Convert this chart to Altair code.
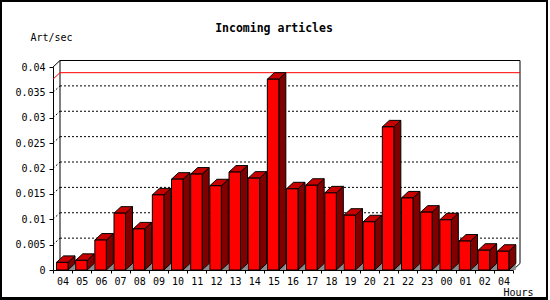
import json
import altair as alt
import pandas as pd

# ---- data ----
hours = ["04", "05", "06", "07", "08", "09", "10", "11", "12", "13", "14", "15",
         "16", "17", "18", "19", "20", "21", "22", "23", "00", "01", "02", "04"]
rates = [0.0015, 0.0019, 0.0059, 0.0112, 0.0081, 0.0148, 0.0179, 0.0189,
         0.0166, 0.0193, 0.0181, 0.0376, 0.0160, 0.0167, 0.0152, 0.0108,
         0.0095, 0.0282, 0.0142, 0.0114, 0.0099, 0.0057, 0.0039, 0.0037]
y_ticks = [0, 0.005, 0.01, 0.015, 0.02, 0.025, 0.03, 0.035, 0.04]
grid_values = [0.005, 0.01, 0.015, 0.02, 0.025, 0.03, 0.035]

# ---- geometry of the pseudo-3D plot ----
W, H = 460, 203
N = len(hours)
YMAX = 0.04
DX_PX, DY_PX = 7.0, 6.5
band_px = W / N
dxu = DX_PX * N / W          # depth offset in x units
dyu = DY_PX * YMAX / H       # depth offset in y units
off = 3.5 / band_px          # bar start inside its band
bw = 11.5 / band_px          # bar front width

FONT = "DejaVu Sans Mono"

front_rows, side_rows, top_rows, shade_rows = [], [], [], []
for i, v in enumerate(rates):
    xl = i + off
    xr = xl + bw
    front_rows.append({"bar": i, "x": xl, "x2": xr, "y": v, "y2": 0.0})
    side_rows += [{"bar": i, "x": xr, "y": 0.0, "y2": v},
                  {"bar": i, "x": xr + dxu, "y": dyu, "y2": v + dyu}]
    top_rows += [{"bar": i, "y": v, "x": xl, "x2": xr},
                 {"bar": i, "y": v + dyu, "x": xl + dxu, "x2": xr + dxu}]
    shade_rows += [{"bar": i, "x": xr, "y": 0.0, "y2": 0.0},
                   {"bar": i, "x": xr + dxu, "y": 0.0, "y2": dyu}]

front = pd.DataFrame(front_rows)
side = pd.DataFrame(side_rows)
top = pd.DataFrame(top_rows)
shade = pd.DataFrame(shade_rows)

grid = pd.DataFrame(
    [{"x": dxu, "x2": N + dxu, "y": g + dyu, "y2": g + dyu} for g in grid_values] +
    [{"x": 0.0, "x2": dxu, "y": g, "y2": g + dyu} for g in grid_values]
)
frame = pd.DataFrame([
    {"x": dxu, "x2": dxu, "y": dyu, "y2": YMAX + dyu},
    {"x": dxu, "x2": N + dxu, "y": YMAX + dyu, "y2": YMAX + dyu},
    {"x": N + dxu, "x2": N + dxu, "y": dyu, "y2": YMAX + dyu},
    {"x": 0.0, "x2": dxu, "y": YMAX, "y2": YMAX + dyu},
    {"x": float(N), "x2": N + dxu, "y": 0.0, "y2": dyu},
])
vmax = max(rates)
maxline = pd.DataFrame([
    {"x": 0.0, "x2": dxu, "y": vmax, "y2": vmax + dyu},
    {"x": dxu, "x2": N + dxu, "y": vmax + dyu, "y2": vmax + dyu},
])

xs = alt.Scale(domain=[0, N], nice=False, zero=False)
ys = alt.Scale(domain=[0, YMAX], nice=False, zero=False)

label_expr = json.dumps(hours) + "[datum.value] || ''"

x_axis = alt.Axis(
    values=list(range(N + 1)), labelExpr=label_expr, labelOffset=band_px / 2,
    labelFlush=False, labelOverlap=False, tickSize=3, tickColor="black",
    domainColor="black", grid=False, labelFont=FONT, labelFontSize=10,
    labelColor="black", labelPadding=3,
    title="Hours", titleX=480, titleY=25, titleAlign="right",
    titleBaseline="alphabetic", titleFont=FONT, titleFontSize=10,
    titleFontWeight="normal", titleColor="black",
)
y_axis = alt.Axis(
    values=y_ticks, format="~g", tickSize=4, tickColor="black",
    domainColor="black", grid=False, labelFont=FONT, labelFontSize=10,
    labelColor="black", labelPadding=4,
    title="Art/sec", titleAngle=0, titleAlign="left", titleBaseline="alphabetic",
    titleX=-23, titleY=-27, titleFont=FONT, titleFontSize=10,
    titleFontWeight="normal", titleColor="black",
)


def X(field="x", stack=None):
    if stack is None:
        return alt.X(f"{field}:Q", scale=xs, axis=x_axis)
    return alt.X(f"{field}:Q", scale=xs, axis=x_axis, stack=stack)


def Y(field="y", stack=None):
    if stack is None:
        return alt.Y(f"{field}:Q", scale=ys, axis=y_axis)
    return alt.Y(f"{field}:Q", scale=ys, axis=y_axis, stack=stack)


def seg_layer(df, color, dash=None, width=1):
    kw = dict(color=color, strokeWidth=width)
    if dash:
        kw["strokeDash"] = dash
    return alt.Chart(df).mark_rule(**kw).encode(
        x=X(), x2="x2:Q", y=Y(), y2="y2:Q",
    )


border = alt.Chart(front).mark_rect(fillOpacity=0, stroke="black", strokeWidth=2).encode(
    x=alt.value(-52), x2=alt.value(494), y=alt.value(-66), y2=alt.value(231.7)
)

grid_layer = seg_layer(grid, "black", dash=[2, 2])
frame_layer = seg_layer(frame, "black")
max_layer = seg_layer(maxline, "#ff0000")

shade_layer = alt.Chart(shade).mark_area(orient="vertical", color="#8c8c8c").encode(
    x=X(), y=Y(stack=False), y2="y2:Q", detail="bar:N",
)
side_layer = alt.Chart(side).mark_area(
    orient="vertical", color="#800000", stroke="black", strokeWidth=1
).encode(
    x=X(), y=Y(stack=False), y2="y2:Q", detail="bar:N",
)
top_layer = alt.Chart(top).mark_area(
    orient="horizontal", color="#c80000", stroke="black", strokeWidth=1
).encode(
    y=Y(), x=X(stack=False), x2="x2:Q", detail="bar:N",
)
front_layer = alt.Chart(front).mark_rect(
    color="#ff0000", stroke="black", strokeWidth=1
).encode(
    x=X(), x2="x2:Q", y=Y(), y2="y2:Q",
)

chart = alt.layer(
    front_layer.mark_rect(opacity=0), border, grid_layer, frame_layer, max_layer,
    shade_layer, side_layer, top_layer, front_layer,
).properties(
    width=W, height=H,
    padding={"left": 53, "top": 67, "right": 550 - 53 - W, "bottom": 300 - 67 - H},
    autosize="none",
    background="white",
    title=alt.TitleParams(
        "Incoming articles", font=FONT, fontSize=11.5, fontWeight="bold",
        color="black", anchor="middle", dx=-9, dy=38,
    ),
).configure_view(stroke=None)

chart.save("out.html", embed_options={"renderer": "svg", "actions": False})
